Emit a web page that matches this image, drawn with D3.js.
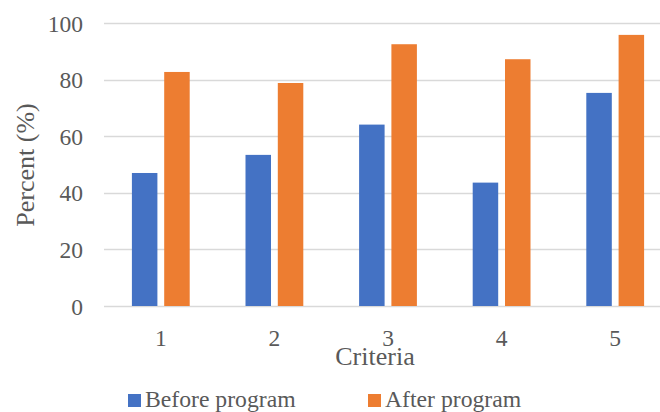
<!DOCTYPE html>
<html>
<head>
<meta charset="utf-8">
<script src="https://cdn.jsdelivr.net/npm/d3@7"></script>
<style>
  html, body { margin: 0; padding: 0; background: #fff; }
  svg { display: block; }
  text { font-family: "Liberation Serif", "Times New Roman", serif; fill: #595959; }
</style>
</head>
<body>
<svg id="chart" width="660" height="412"></svg>
<script>
// Criteria and percentages before/after the program
const categories = ["1", "2", "3", "4", "5"];
const seriesNames = ["Before program", "After program"];
const beforeValues = [47.0, 53.4, 64.1, 43.6, 75.3];
const afterValues = [82.7, 78.8, 92.5, 87.2, 95.8];
const yTicks = [0, 20, 40, 60, 80, 100];
const colors = ["#4472C4", "#ED7D31"];

const rows = categories.map((c, i) => ({ cat: c, values: [beforeValues[i], afterValues[i]] }));

const svg = d3.select("#chart");
const plot = { left: 104, right: 672, top: 23, bottom: 306 };

const x = d3.scaleBand().domain(categories).range([plot.left, plot.right]).paddingInner(0).paddingOuter(0);
const y = d3.scaleLinear().domain([0, 100]).range([plot.bottom, plot.top]);

const barW = 25.5, gap = 6.8;
const tickFont = 23.5, titleFont = 26, legendFont = 23.7;

// Horizontal gridlines
svg.append("g")
  .selectAll("line")
  .data(yTicks)
  .join("line")
  .attr("x1", plot.left)
  .attr("x2", plot.right)
  .attr("y1", d => Math.round(y(d)) + 0.5)
  .attr("y2", d => Math.round(y(d)) + 0.5)
  .attr("stroke", "#d9d9d9")
  .attr("stroke-width", 1.4);

// Y axis tick labels
const yAxis = d3.axisLeft(y).tickValues(yTicks).tickSize(0).tickPadding(0);
const yg = svg.append("g").attr("transform", `translate(${plot.left - 21},0)`).call(yAxis);
yg.select(".domain").remove();
yg.selectAll("text")
  .attr("font-size", tickFont)
  .attr("fill", "#595959")
  .attr("dy", "0.34em");

// Bars
const groups = svg.append("g")
  .selectAll("g")
  .data(rows)
  .join("g")
  .attr("transform", d => `translate(${x(d.cat) + x.bandwidth() / 2},0)`);

groups.selectAll("rect")
  .data(d => d.values.map((v, k) => ({ v, k })))
  .join("rect")
  .attr("x", d => d.k === 0 ? -(gap / 2 + barW) : gap / 2)
  .attr("width", barW)
  .attr("y", d => y(d.v))
  .attr("height", d => y(0) - y(d.v))
  .attr("fill", d => colors[d.k]);

// X axis tick labels
const xAxis = d3.axisBottom(x).tickSize(0).tickPadding(0);
const xg = svg.append("g").attr("transform", `translate(0,${plot.bottom})`).call(xAxis);
xg.select(".domain").remove();
xg.selectAll("text")
  .attr("font-size", tickFont)
  .attr("fill", "#595959")
  .attr("y", 40)
  .attr("dy", 0);

// Axis titles
svg.append("text")
  .attr("x", 375)
  .attr("y", 365)
  .attr("text-anchor", "middle")
  .attr("font-size", titleFont)
  .text("Criteria");

svg.append("text")
  .attr("transform", "translate(34,165) rotate(-90)")
  .attr("text-anchor", "middle")
  .attr("font-size", titleFont)
  .text("Percent (%)");

// Legend
const legendX = [128, 368];
const legend = svg.append("g")
  .selectAll("g")
  .data(seriesNames)
  .join("g")
  .attr("transform", (d, i) => `translate(${legendX[i]},394)`);
legend.append("rect")
  .attr("width", 13)
  .attr("height", 13)
  .attr("fill", (d, i) => colors[i]);
legend.append("text")
  .attr("x", 17)
  .attr("y", 13)
  .attr("font-size", legendFont)
  .text(d => d);
</script>
</body>
</html>
